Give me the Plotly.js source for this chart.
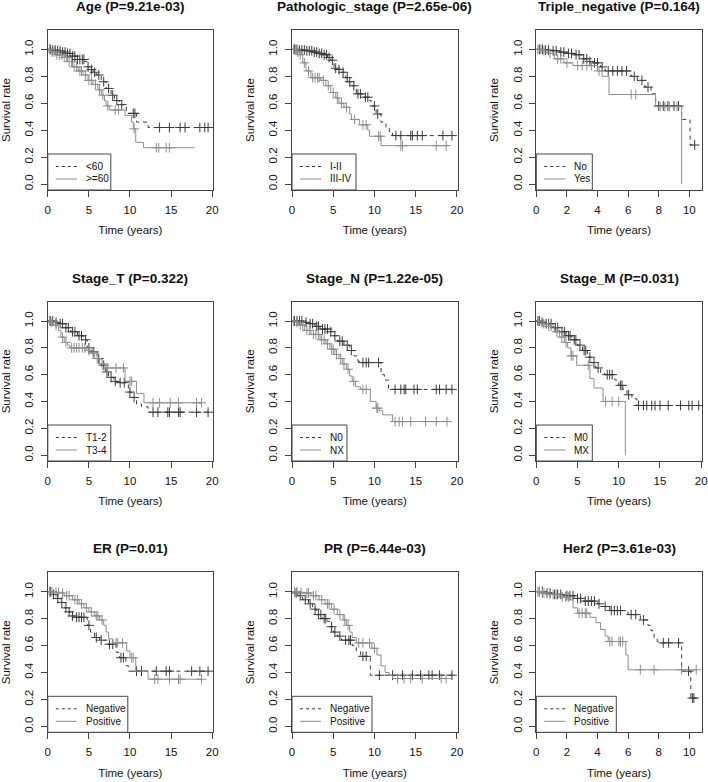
<!DOCTYPE html>
<html>
<head>
<meta charset="utf-8">
<script src="https://cdn.plot.ly/plotly-3.0.1.min.js"></script>
<style>html,body{margin:0;padding:0;background:#fff;}#chart{width:708px;height:782px;}</style>
</head>
<body>
<div id="chart"></div>
<script>
// ---------- Data ----------
// Panel titles and group labels
const panelTitles = ['Age (P=9.21e-03)', 'Pathologic_stage (P=2.65e-06)', 'Triple_negative (P=0.164)',
  'Stage_T (P=0.322)', 'Stage_N (P=1.22e-05)', 'Stage_M (P=0.031)',
  'ER (P=0.01)', 'PR (P=6.44e-03)', 'Her2 (P=3.61e-03)'];
const groupLabels = [['<60', '>=60'], ['I-II', 'III-IV'], ['No', 'Yes'],
  ['T1-2', 'T3-4'], ['N0', 'NX'], ['M0', 'MX'],
  ['Negative', 'Positive'], ['Negative', 'Positive'], ['Negative', 'Positive']];
const xTickVals20 = [0, 5, 10, 15, 20];
const xTickVals10 = [0, 2, 4, 6, 8, 10];
const yTickVals = [0, 0.2, 0.4, 0.6, 0.8, 1.0];

// Age
const ageA_T = [0, 0.5, 1.0, 1.6, 2.2, 2.8, 3.5, 4.5, 4.75, 5.1, 5.5, 5.9, 6.5, 7.1, 7.7, 8.1, 8.7, 9.3, 9.55, 10.8, 12.2, 19.6];
const ageA_S = [1, 0.995, 0.99, 0.98, 0.97, 0.95, 0.925, 0.91, 0.87, 0.85, 0.83, 0.81, 0.76, 0.71, 0.66, 0.62, 0.59, 0.575, 0.525, 0.46, 0.42, 0.42];
const ageA_C = [0.3, 0.6, 0.9, 1.2, 1.5, 1.8, 2.1, 2.4, 2.7, 3.0, 3.3, 3.6, 3.9, 4.2, 4.4, 4.9, 5.3, 5.7, 6.2, 6.8, 7.4, 7.9, 8.4, 9.0, 10.4, 10.6, 13.6, 14.8, 16.1, 16.7, 18.5, 19.1, 19.5];
const ageB_T = [0, 0.4, 1.0, 1.8, 2.4, 3.0, 3.7, 4.3, 4.9, 5.5, 6.1, 6.5, 6.9, 7.1, 7.5, 9.4, 10.2, 10.4, 10.7, 11.65, 17.9];
const ageB_S = [1, 0.98, 0.96, 0.94, 0.91, 0.87, 0.84, 0.81, 0.77, 0.74, 0.70, 0.66, 0.62, 0.58, 0.55, 0.51, 0.46, 0.41, 0.31, 0.27, 0.27];
const ageB_C = [0.2, 0.5, 0.8, 1.1, 1.4, 1.7, 2.0, 2.3, 2.6, 2.9, 3.2, 3.5, 3.9, 4.1, 4.6, 5.0, 5.3, 5.8, 6.3, 6.7, 7.3, 8.2, 8.6, 10.5, 13.2, 13.5, 14.4, 14.8];

// Pathologic stage
const pstA_T = [0, 0.8, 1.6, 2.5, 3.1, 3.7, 4.3, 4.7, 5.1, 5.5, 5.9, 6.5, 6.8, 7.2, 7.8, 8.6, 9.4, 9.6, 10.2, 10.8, 11.4, 11.8, 12.2, 19.6];
const pstA_S = [1, 0.995, 0.99, 0.98, 0.97, 0.96, 0.94, 0.92, 0.86, 0.85, 0.83, 0.79, 0.76, 0.73, 0.67, 0.645, 0.62, 0.58, 0.52, 0.46, 0.42, 0.38, 0.36, 0.36];
const pstA_C = [0.3, 0.6, 0.9, 1.2, 1.5, 1.8, 2.1, 2.4, 2.7, 3.0, 3.3, 3.6, 3.9, 4.2, 4.5, 4.9, 5.3, 5.7, 6.2, 6.7, 7.0, 7.5, 8.0, 8.3, 8.9, 9.2, 10.0, 10.4, 12.6, 13.2, 14.4, 14.6, 15.2, 15.8, 18.3, 19.4];
const pstB_T = [0, 0.5, 0.9, 1.3, 1.7, 2.3, 3.5, 4.1, 4.7, 5.3, 5.7, 6.3, 7.0, 7.2, 8.2, 9.2, 9.4, 10.8, 18.9];
const pstB_S = [1, 0.98, 0.96, 0.90, 0.84, 0.79, 0.77, 0.73, 0.68, 0.64, 0.60, 0.57, 0.52, 0.48, 0.44, 0.40, 0.355, 0.285, 0.285];
const pstB_C = [0.2, 0.4, 0.7, 1.0, 1.5, 2.0, 2.5, 2.8, 3.1, 3.3, 3.8, 4.4, 5.0, 5.5, 6.0, 6.6, 7.6, 8.6, 9.0, 10.5, 10.7, 13.2, 13.4, 17.5, 18.7];

// Triple negative
const tnA_T = [0, 0.5, 1.0, 1.5, 2.0, 2.5, 3.0, 3.4, 3.7, 4.2, 4.5, 6.2, 6.6, 7.1, 7.5, 7.8, 9.5, 10.05, 10.45];
const tnA_S = [1, 0.995, 0.99, 0.98, 0.97, 0.96, 0.93, 0.91, 0.90, 0.87, 0.84, 0.80, 0.77, 0.72, 0.67, 0.58, 0.48, 0.29, 0.29];
const tnA_C = [0.2, 0.4, 0.6, 0.8, 1.1, 1.3, 1.6, 1.8, 2.1, 2.3, 2.6, 2.8, 3.1, 3.3, 3.5, 3.8, 4.0, 4.3, 4.7, 5.0, 5.3, 5.6, 5.9, 6.4, 6.9, 7.3, 8.0, 8.3, 8.6, 9.0, 9.3, 10.35];
const tnB_T = [0, 0.4, 0.7, 1.2, 1.8, 2.4, 4.0, 4.3, 4.75, 7.8, 9.5];
const tnB_S = [1, 0.99, 0.97, 0.93, 0.90, 0.88, 0.84, 0.80, 0.665, 0.575, 0];
const tnB_C = [0.1, 0.3, 0.5, 0.9, 1.4, 1.6, 2.0, 2.7, 3.0, 3.3, 3.6, 4.1, 6.2, 6.5, 8.1, 8.4, 8.7, 9.2];

// Stage T
const stA_T = [0, 0.8, 1.3, 2.0, 2.8, 3.6, 4.4, 4.8, 5.3, 6.0, 6.5, 7.0, 7.4, 8.0, 8.5, 9.8, 10.2, 10.8, 11.4, 12.2, 19.6];
const stA_S = [1, 0.99, 0.98, 0.95, 0.92, 0.89, 0.86, 0.80, 0.77, 0.72, 0.67, 0.62, 0.58, 0.55, 0.54, 0.47, 0.43, 0.38, 0.36, 0.32, 0.32];
const stA_C = [0.3, 0.6, 1.0, 1.5, 1.8, 2.2, 2.5, 3.0, 3.3, 3.8, 4.1, 4.6, 5.0, 5.6, 6.2, 6.8, 7.2, 7.7, 8.2, 8.8, 9.3, 10.0, 10.5, 12.8, 13.4, 14.6, 14.8, 15.9, 16.1, 18.1, 19.5];
const stB_T = [0, 0.4, 0.7, 1.3, 1.6, 2.0, 2.4, 2.7, 4.7, 5.2, 5.7, 6.3, 7.0, 9.4, 10.8, 11.7, 18.7];
const stB_S = [1, 0.99, 0.97, 0.93, 0.88, 0.84, 0.82, 0.80, 0.78, 0.76, 0.72, 0.68, 0.65, 0.55, 0.46, 0.39, 0.39];
const stB_C = [0.2, 0.5, 1.0, 1.8, 2.2, 2.9, 3.2, 3.5, 3.8, 4.2, 4.5, 5.0, 5.5, 6.0, 6.6, 7.3, 8.3, 9.2, 10.0, 10.2, 12.8, 13.6, 14.9, 15.9, 18.1, 18.7];

// Stage N
const snA_T = [0, 1.5, 2.0, 2.8, 3.4, 4.5, 5.0, 5.5, 6.3, 7.0, 7.5, 8.0, 8.3, 10.8, 11.2, 11.7, 19.6];
const snA_S = [1, 0.99, 0.98, 0.96, 0.94, 0.92, 0.89, 0.85, 0.82, 0.78, 0.74, 0.70, 0.69, 0.60, 0.56, 0.49, 0.49];
const snA_C = [0.3, 0.6, 0.9, 1.2, 1.7, 2.2, 2.5, 3.0, 3.2, 3.7, 4.0, 4.3, 4.7, 5.2, 5.8, 6.1, 6.7, 7.2, 8.6, 9.0, 9.3, 10.5, 12.5, 13.2, 13.6, 13.8, 14.8, 15.2, 17.5, 17.9, 18.7, 19.4];
const snB_T = [0, 0.4, 0.8, 1.5, 2.3, 3.4, 4.1, 4.6, 5.2, 5.7, 6.1, 6.6, 7.0, 7.3, 7.7, 8.3, 9.5, 10.2, 10.6, 11.0, 12.2, 18.8];
const snB_S = [1, 0.99, 0.97, 0.93, 0.90, 0.86, 0.83, 0.79, 0.75, 0.72, 0.68, 0.64, 0.59, 0.55, 0.51, 0.49, 0.40, 0.35, 0.33, 0.30, 0.25, 0.25];
const snB_C = [0.2, 0.6, 1.0, 1.3, 1.8, 2.1, 2.6, 2.9, 3.2, 3.6, 3.9, 4.3, 4.8, 5.0, 5.4, 5.9, 6.3, 6.8, 7.5, 8.6, 9.0, 10.3, 10.4, 12.5, 13.0, 13.4, 14.4, 16.2, 17.5, 18.8];

// Stage M
const smA_T = [0, 0.5, 1.0, 2.0, 2.8, 3.6, 4.3, 5.0, 5.6, 6.2, 6.7, 7.2, 7.8, 8.3, 9.5, 10.0, 10.5, 11.0, 11.6, 12.2, 19.7];
const smA_S = [1, 0.99, 0.98, 0.95, 0.92, 0.89, 0.86, 0.82, 0.78, 0.73, 0.69, 0.65, 0.61, 0.60, 0.56, 0.52, 0.49, 0.45, 0.42, 0.37, 0.37];
const smA_C = [0.2, 0.4, 0.7, 1.2, 1.5, 1.8, 2.3, 2.6, 3.1, 3.4, 3.9, 4.1, 4.6, 4.8, 5.3, 5.8, 6.0, 6.5, 7.0, 7.5, 8.6, 8.9, 9.2, 10.2, 10.4, 11.2, 12.4, 13.0, 13.4, 14.0, 14.4, 15.0, 16.0, 17.5, 18.5, 18.9, 19.7];
const smB_T = [0, 0.6, 1.2, 2.2, 2.8, 3.4, 3.8, 4.2, 4.9, 6.5, 7.0, 8.1, 10.8];
const smB_S = [1, 0.98, 0.96, 0.92, 0.88, 0.84, 0.80, 0.74, 0.67, 0.57, 0.50, 0.40, 0];
const smB_C = [0.3, 0.9, 1.5, 1.8, 2.5, 3.1, 3.6, 4.25, 4.45, 6.3, 8.4, 9.2, 10.0];

// ER
const erA_T = [0, 0.5, 1.0, 1.5, 2.0, 2.5, 2.8, 3.3, 4.8, 5.2, 5.7, 6.3, 7.3, 8.3, 8.7, 9.5, 9.8, 19.6];
const erA_S = [1, 0.98, 0.95, 0.92, 0.88, 0.85, 0.82, 0.81, 0.75, 0.70, 0.66, 0.64, 0.61, 0.55, 0.51, 0.45, 0.41, 0.41];
const erA_C = [0.3, 0.7, 1.2, 1.7, 2.2, 2.6, 3.0, 3.5, 3.8, 4.1, 4.4, 5.0, 5.9, 6.5, 7.5, 7.9, 8.9, 9.2, 10.8, 11.4, 13.2, 14.4, 14.8, 17.5, 18.5, 19.5];
const erB_T = [0, 0.8, 1.5, 2.0, 3.0, 3.8, 4.4, 5.0, 5.7, 6.3, 6.8, 7.1, 7.4, 7.9, 9.6, 10.0, 10.7, 12.2, 18.7];
const erB_S = [1, 0.995, 0.99, 0.97, 0.94, 0.91, 0.88, 0.85, 0.82, 0.79, 0.75, 0.70, 0.65, 0.62, 0.56, 0.51, 0.41, 0.35, 0.35];
const erB_C = [0.2, 0.5, 1.0, 1.3, 1.8, 2.3, 2.6, 3.3, 3.6, 4.1, 4.7, 5.3, 5.9, 6.1, 6.6, 8.3, 8.5, 9.1, 10.2, 10.4, 13.0, 13.4, 14.8, 15.9, 16.1, 18.7];

// PR
const prA_T = [0, 0.3, 0.7, 1.3, 2.0, 2.5, 3.0, 3.7, 4.3, 4.6, 5.0, 5.5, 6.0, 7.3, 7.8, 8.3, 9.5, 19.6];
const prA_S = [1, 0.99, 0.97, 0.94, 0.91, 0.87, 0.83, 0.80, 0.78, 0.74, 0.70, 0.67, 0.64, 0.60, 0.56, 0.52, 0.38, 0.38];
const prA_C = [0.5, 1.0, 1.6, 2.2, 2.8, 3.2, 3.5, 3.9, 4.1, 4.8, 5.2, 5.8, 6.5, 6.9, 7.1, 8.6, 9.0, 10.6, 12.2, 13.4, 14.6, 15.6, 16.6, 17.0, 17.9, 19.4];
const prB_T = [0, 0.8, 1.5, 2.3, 3.3, 4.0, 4.8, 5.5, 6.2, 6.6, 7.0, 7.3, 7.8, 9.7, 10.3, 10.8, 11.3, 11.8, 12.2, 18.7];
const prB_S = [1, 0.995, 0.99, 0.97, 0.94, 0.91, 0.87, 0.83, 0.79, 0.75, 0.70, 0.66, 0.62, 0.58, 0.53, 0.45, 0.40, 0.38, 0.355, 0.355];
const prB_C = [0.3, 0.6, 1.1, 1.8, 2.0, 2.6, 2.9, 3.6, 4.3, 4.5, 5.1, 5.8, 6.4, 6.8, 8.1, 8.6, 9.4, 10.0, 12.8, 13.6, 14.4, 15.8, 18.1, 18.7];

// Her2
const h2A_T = [0, 0.5, 1.0, 1.8, 2.5, 3.0, 4.0, 4.3, 4.8, 6.0, 6.8, 7.3, 7.5, 7.7, 7.9, 8.0, 9.5, 10.1, 10.45];
const h2A_S = [1, 0.99, 0.98, 0.97, 0.95, 0.93, 0.91, 0.89, 0.86, 0.83, 0.79, 0.75, 0.71, 0.66, 0.63, 0.62, 0.41, 0.21, 0.21];
const h2A_C = [0.2, 0.4, 0.7, 0.9, 1.2, 1.4, 1.6, 2.0, 2.2, 2.4, 2.7, 2.9, 3.2, 3.4, 3.6, 3.8, 4.1, 4.5, 4.9, 5.1, 5.3, 5.5, 6.2, 6.5, 7.0, 8.3, 8.65, 9.3, 9.95, 10.2, 10.3];
const h2B_T = [0, 0.3, 0.7, 1.5, 2.2, 2.4, 2.7, 3.5, 3.9, 4.2, 4.5, 4.7, 5.85, 6.0, 10.5];
const h2B_S = [1, 0.99, 0.98, 0.96, 0.94, 0.88, 0.84, 0.81, 0.77, 0.72, 0.67, 0.63, 0.53, 0.42, 0.42];
const h2B_C = [0.1, 0.2, 0.4, 0.5, 0.9, 1.1, 1.3, 1.7, 1.9, 2.1, 2.8, 3.0, 3.2, 3.3, 4.8, 4.95, 5.4, 5.5, 5.65, 6.8, 7.7, 9.5, 10.45];

// ---------- Build panels ----------
const panelData = [
  [[ageA_T, ageA_S, ageA_C], [ageB_T, ageB_S, ageB_C]],
  [[pstA_T, pstA_S, pstA_C], [pstB_T, pstB_S, pstB_C]],
  [[tnA_T, tnA_S, tnA_C], [tnB_T, tnB_S, tnB_C]],
  [[stA_T, stA_S, stA_C], [stB_T, stB_S, stB_C]],
  [[snA_T, snA_S, snA_C], [snB_T, snB_S, snB_C]],
  [[smA_T, smA_S, smA_C], [smB_T, smB_S, smB_C]],
  [[erA_T, erA_S, erA_C], [erB_T, erB_S, erB_C]],
  [[prA_T, prA_S, prA_C], [prB_T, prB_S, prB_C]],
  [[h2A_T, h2A_S, h2A_C], [h2B_T, h2B_S, h2B_C]]
];
const shortAxis = [false, false, true, false, false, false, false, false, true];

function stepAt(T, S, t) {
  let v = S[0];
  for (let i = 0; i < T.length; i++) { if (T[i] <= t) v = S[i]; else break; }
  return v;
}
function esc(s) { return s.replace(/&/g, '&amp;').replace(/</g, '&lt;').replace(/>/g, '&gt;'); }

// ---------- Layout geometry (pixels) ----------
const W = 708, H = 782;
const colPx = [[47.8, 213], [292, 457.7], [536.3, 702]];
const rowPx = [[30, 190], [301.7, 461], [572.3, 732.3]];
const legendWidthPx = [63, 64, 56, 63, 55, 56, 80, 80, 80];
const LEG_H = 36, LEG_Y1 = 23.5, LEG_Y2 = 11, LEG_LX0 = 8, LEG_LX1 = 29, LEG_TX = 36;
const FONT = 'Liberation Sans, Arial, Helvetica, sans-serif';
const darkCol = '#3a3a3a', lightCol = '#8e8e8e';
const styles = [
  {color: darkCol, dash: '4px,4px'},
  {color: lightCol, dash: 'solid'}
];

const traces = [];
const layout = {
  width: W, height: H,
  margin: {l: 0, r: 0, t: 0, b: 0},
  paper_bgcolor: '#fff', plot_bgcolor: '#fff',
  font: {family: FONT, size: 11.5, color: '#111'},
  annotations: [], shapes: [],
  showlegend: false
};

for (let p = 0; p < 9; p++) {
  const r = Math.floor(p / 3), c = p % 3;
  const sfx = p === 0 ? '' : String(p + 1);
  const xa = 'x' + sfx, ya = 'y' + sfx;
  const xd = [colPx[c][0] / W, colPx[c][1] / W];
  const yd = [1 - rowPx[r][1] / H, 1 - rowPx[r][0] / H];
  const wPx = colPx[c][1] - colPx[c][0], hPx = rowPx[r][1] - rowPx[r][0];
  const short = shortAxis[p];

  panelData[p].forEach((g, gi) => {
    const [T, S, C] = g;
    traces.push({
      type: 'scatter', mode: 'lines', x: T, y: S, xaxis: xa, yaxis: ya,
      line: {shape: 'hv', color: styles[gi].color, width: 1, dash: styles[gi].dash},
      name: esc(groupLabels[p][gi]), hoverinfo: 'skip', showlegend: false
    });
    traces.push({
      type: 'scatter', mode: 'markers', x: C, y: C.map(t => stepAt(T, S, t)),
      xaxis: xa, yaxis: ya, showlegend: false, hoverinfo: 'skip',
      marker: {symbol: 'cross-thin', size: 7, line: {color: styles[gi].color, width: 1}}
    });
  });

  layout['xaxis' + sfx] = {
    domain: xd, anchor: ya, range: short ? [0, 10.83] : [0, 20.1],
    tickvals: short ? xTickVals10 : xTickVals20,
    ticks: 'outside', ticklen: 6, tickcolor: '#444', tickwidth: 1,
    showline: true, linecolor: '#444', linewidth: 1, mirror: true,
    showgrid: false, zeroline: false, fixedrange: true,
    tickfont: {size: 11.5, family: FONT, color: '#111'},
    ticklabelstandoff: 3,
    title: {text: 'Time (years)', font: {size: 11.5, family: FONT, color: '#111'}, standoff: 11}
  };
  layout['yaxis' + sfx] = {
    domain: yd, anchor: xa, range: [-0.044, 1.144],
    tickvals: yTickVals, tickformat: '.1f', tickangle: -90,
    ticks: 'outside', ticklen: 6, tickcolor: '#444', tickwidth: 1,
    showline: true, linecolor: '#444', linewidth: 1, mirror: true,
    showgrid: false, zeroline: false, fixedrange: true,
    tickfont: {size: 11.5, family: FONT, color: '#111'},
    ticklabelstandoff: 3,
    title: {text: 'Survival rate', font: {size: 11.5, family: FONT, color: '#111'}, standoff: 10}
  };

  // Legend box (R-style, bottom-left corner of each panel)
  const xr = xa + ' domain', yr = ya + ' domain';
  layout.shapes.push({
    type: 'rect', xref: xr, yref: yr, x0: 0, x1: legendWidthPx[p] / wPx, y0: 0, y1: LEG_H / hPx,
    line: {color: '#444', width: 1}, fillcolor: '#fff', layer: 'above'
  });
  [LEG_Y1, LEG_Y2].forEach((yy, gi) => {
    layout.shapes.push({
      type: 'line', xref: xr, yref: yr, x0: LEG_LX0 / wPx, x1: LEG_LX1 / wPx, y0: yy / hPx, y1: yy / hPx,
      line: {color: styles[gi].color, width: 1, dash: gi === 0 ? '3px,3px' : 'solid'}, layer: 'above'
    });
    layout.annotations.push({
      text: esc(groupLabels[p][gi]), xref: xr, yref: yr, x: LEG_TX / wPx, y: yy / hPx,
      xanchor: 'left', yanchor: 'middle', showarrow: false,
      font: {size: 10, family: FONT, color: '#111'}
    });
  });

  layout.annotations.push({
    text: '<b>' + panelTitles[p] + '</b>', xref: xa + ' domain', yref: ya + ' domain',
    x: 0.5, y: 1, xanchor: 'center', yanchor: 'bottom', yshift: 14, showarrow: false,
    font: {size: 13.5, family: FONT, color: '#111'}
  });
}

Plotly.newPlot('chart', traces, layout, {displayModeBar: false, staticPlot: true});
</script>
</body>
</html>
